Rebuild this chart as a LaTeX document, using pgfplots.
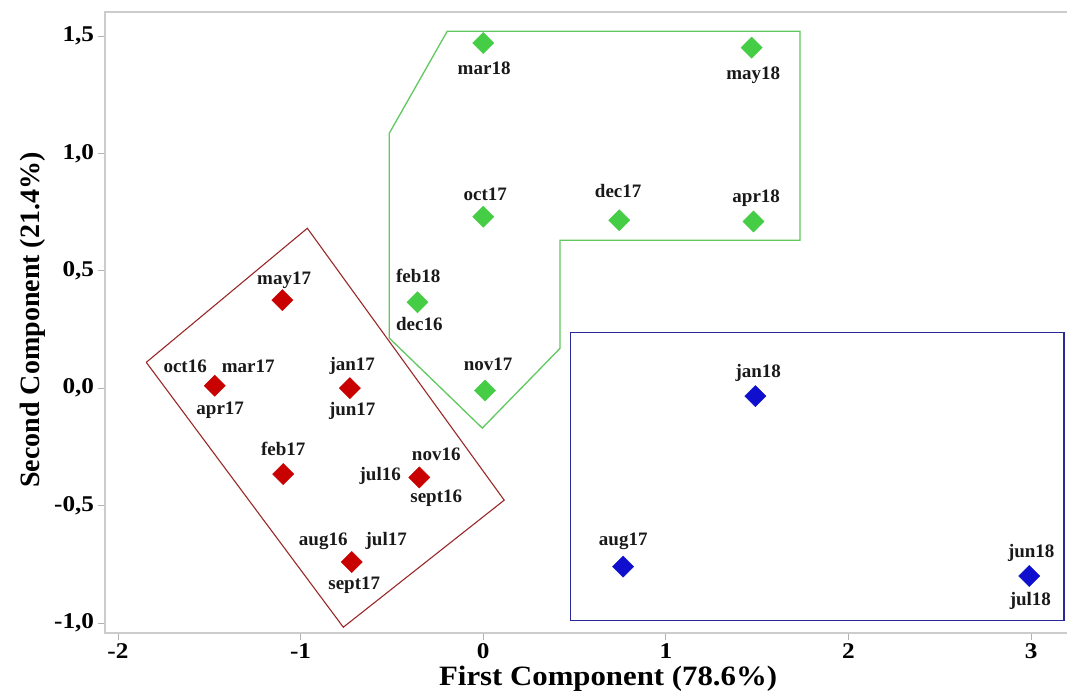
\documentclass[border=0pt]{standalone}
\usepackage{fontspec}
\setmainfont{Liberation Serif}
\usepackage{pgfplots}
\pgfplotsset{compat=1.18}
\definecolor{redm}{RGB}{200,0,0}
\definecolor{greenm}{RGB}{70,205,70}
\definecolor{bluem}{RGB}{15,15,205}
\definecolor{redl}{RGB}{155,40,40}
\definecolor{greenl}{RGB}{95,200,95}
\definecolor{bluel}{RGB}{40,40,150}
\tikzset{lab/.style={anchor=base, inner sep=0pt, text=black!90, font=\fontsize{19}{21}\selectfont\bfseries}}
\begin{document}
\begin{tikzpicture}
\useasboundingbox (0,0) rectangle (1067pt,695pt);
\begin{axis}[
  at={(105pt,62pt)}, anchor=south west,
  scale only axis, width=975pt, height=621pt,
  xmin=-2.071, xmax=3.268, ymin=-1.0426, ymax=1.602,
  axis line style={draw=black!20, line width=1.2pt},
  xtick={-2,-1,0,1,2,3}, xticklabels={-2,-1,0,1,2,3},
  ytick={-1,-0.5,0,0.5,1,1.5},
  yticklabels={{-1,0},{-0,5},{0,0},{0,5},{1,0},{1,5}},
  xtick pos=bottom, ytick pos=left, tick align=outside,
  major tick length=7pt,
  every tick/.style={draw=black!30, line width=0.8pt},
  ticklabel style={font=\fontsize{22.5}{24}\selectfont\bfseries, xscale=1.12},
  xlabel={First Component (78.6\%)},
  ylabel={Second Component (21.4\%)},
  label style={font=\fontsize{28}{30}\selectfont\bfseries, inner sep=0pt},
  xlabel style={at={(axis description cs:0.516,-0.0531)}, anchor=north, xscale=1.1},
  ylabel style={at={(axis description cs:-0.0605,0.504)}, anchor=south},
  clip=false,
]
% group outlines
\addplot[draw=redl, line width=1.1pt, mark=none] coordinates {
 (-1.845,0.11) (-0.963,0.681) (0.115,-0.477) (-0.766,-1.018) (-1.845,0.11)};
\addplot[draw=greenl, line width=1.3pt, mark=none] coordinates {
 (-0.197,1.52) (1.735,1.52) (1.735,0.63) (0.421,0.63) (0.421,0.17)
 (-0.005,-0.17) (-0.514,0.213) (-0.514,1.086) (-0.197,1.52)};
\addplot[draw=bluel, line width=1.2pt, mark=none] coordinates {
 (0.48,0.238) (3.18,0.238) (3.18,-0.988) (0.48,-0.988) (0.48,0.238)};
% points
\addplot[only marks, mark=square*, mark size=7.5pt, color=redm,
  mark options={rotate=45, fill=redm, draw=redm}] table {
x y
-1.10 0.375
-1.47 0.01
-0.73 0.0
-1.095 -0.366
-0.35 -0.38
-0.72 -0.74
};
\addplot[only marks, mark=square*, mark size=7.5pt, color=greenm,
  mark options={rotate=45, fill=greenm, draw=greenm}] table {
x y
0.0 1.47
1.47 1.45
0.0 0.73
0.745 0.715
1.48 0.71
-0.36 0.366
0.01 -0.01
};
\addplot[only marks, mark=square*, mark size=7.5pt, color=bluem,
  mark options={rotate=45, fill=bluem, draw=bluem}] table {
x y
1.49 -0.034
0.766 -0.76
2.99 -0.80
};
% labels
\node[lab] at (axis cs:-1.090,0.443) {may17};
\node[lab] at (axis cs:-1.632,0.068) {oct16};
\node[lab] at (axis cs:-1.287,0.068) {mar17};
\node[lab] at (axis cs:-1.440,-0.111) {apr17};
\node[lab] at (axis cs:-0.717,0.077) {jan17};
\node[lab] at (axis cs:-0.717,-0.115) {jun17};
\node[lab] at (axis cs:-1.095,-0.285) {feb17};
\node[lab] at (axis cs:-0.564,-0.392) {jul16};
\node[lab] at (axis cs:-0.257,-0.307) {nov16};
\node[lab] at (axis cs:-0.257,-0.486) {sept16};
\node[lab] at (axis cs:-0.876,-0.669) {aug16};
\node[lab] at (axis cs:-0.531,-0.669) {jul17};
\node[lab] at (axis cs:-0.706,-0.856) {sept17};
\node[lab] at (axis cs:0.027,0.077) {nov17};
\node[lab] at (axis cs:0.005,1.337) {mar18};
\node[lab] at (axis cs:1.479,1.316) {may18};
\node[lab] at (axis cs:0.011,0.801) {oct17};
\node[lab] at (axis cs:0.739,0.813) {dec17};
\node[lab] at (axis cs:1.495,0.792) {apr18};
\node[lab] at (axis cs:-0.356,0.451) {feb18};
\node[lab] at (axis cs:-0.350,0.247) {dec16};
\node[lab] at (axis cs:1.506,0.047) {jan18};
\node[lab] at (axis cs:0.767,-0.669) {aug17};
\node[lab] at (axis cs:3.001,-0.720) {jun18};
\node[lab] at (axis cs:2.996,-0.924) {jul18};
\end{axis}
\end{tikzpicture}
\end{document}
